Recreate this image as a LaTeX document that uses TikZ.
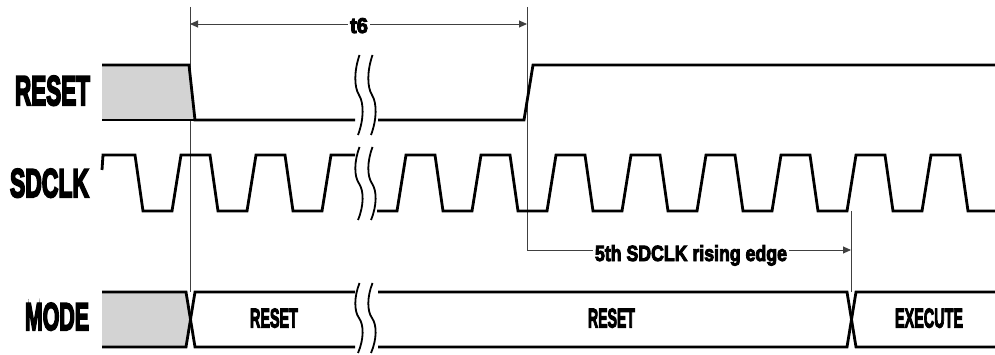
\documentclass[tikz,border=0pt]{standalone}
\usepackage{fontspec}
\usepackage{graphicx}
\usetikzlibrary{arrows.meta}
\newfontfamily\labfont[FakeBold=5.5]{Liberation Sans Bold}
\newfontfamily\smallfont[FakeBold=4.5]{Liberation Sans Bold}
\newcommand{\fitlab}[3]{\resizebox{#1}{#2}{\labfont #3}}
\newcommand{\fitsmall}[3]{\resizebox{#1}{#2}{\smallfont #3}}
\definecolor{fillgray}{HTML}{D3D3D3}
\definecolor{guide}{HTML}{404040}
\newcommand{\brkmark}[3]{%
  \draw[brk] (#1+0.5,#2) .. controls (#1-5,#2+0.2*#3-0.2*#2) and (#1-5,#2+0.4*#3-0.4*#2) .. (#1,0.5*#2+0.5*#3)
     .. controls (#1+5,#2+0.6*#3-0.6*#2) and (#1+5,#2+0.8*#3-0.8*#2) .. (#1-1,#3);}
\begin{document}
\begin{tikzpicture}[x=1pt,y=-1pt,
  sig/.style={line width=2.8pt},
  guideline/.style={line width=0.9pt, draw=guide},
  arr/.style={line width=0.9pt, draw=guide, -{Triangle[length=8pt,width=7pt]}},
  brk/.style={line width=1.8pt},
  lab/.style={inner sep=0pt, anchor=base},
  mid/.style={inner ysep=0pt, inner xsep=2pt, anchor=base}]
\useasboundingbox (0,0) rectangle (995,355);

% signal names
\node[lab] (nreset) at (52.5,105) {\fitlab{75pt}{29pt}{RESET}};
\node[lab] (nsdclk) at (49.5,197) {\fitlab{79pt}{28pt}{SDCLK}};
\node[lab] (nmode)  at (57,330)   {\fitlab{64pt}{27pt}{MODE}};

% guide lines
\coordinate (gA1) at (190,7);   \coordinate (gA2) at (190,292);
\coordinate (gB1) at (527,7);   \coordinate (gB2) at (527,250);
\coordinate (gC1) at (851,211); \coordinate (gC2) at (851,292);
\draw[guideline] (gA1) -- (gA2);
\draw[guideline] (gB1) -- (gB2);
\draw[guideline] (gC1) -- (gC2);

% t6 arrow
\node[mid] (t6) at (359,33) {\fitsmall{18pt}{15pt}{t6}};
\coordinate (t6L) at (190,24); \coordinate (t6R) at (527,24);
\draw[arr] (t6.west |- t6L) -- (t6L);
\draw[arr] (t6.east |- t6R) -- (t6R);

% 5th SDCLK rising edge arrow
\node[mid] (fifth) at (691,261) {\fitsmall{192pt}{16pt}{5th SDCLK rising edge}};
\coordinate (fC) at (527,250); \coordinate (fE) at (851,250);
\draw[guideline] (fC) -- (fifth.west |- fC);
\draw[arr] (fifth.east |- fE) -- (fE);

% RESET signal
\fill[fillgray] (102,65) -- (189,65) -- (195,120) -- (102,120) -- cycle;
\draw[sig] (102,65) -- (189,65) -- (195,120) -- (355,120);
\draw[sig] (102,120) -- (195,120);
\draw[sig] (378,120) -- (524,120) -- (533,65) -- (995,65);

% SDCLK signal
\draw[sig] (102,170) -- (103,155) -- (135,155) -- (143,211) -- (172,211) -- (181,155) -- (210,155) -- (218,211) -- (247,211) -- (256,155) -- (285,155) -- (293,211) -- (322,211) -- (331,155) -- (355,155);
\draw[sig] (377,211) -- (397,211) -- (406,155) -- (435,155) -- (443,211) -- (472,211) -- (481,155) -- (510,155) -- (518,211) -- (547,211) -- (556,155) -- (585,155) -- (593,211) -- (622,211) -- (631,155) -- (660,155) -- (668,211) -- (697,211) -- (706,155) -- (735,155) -- (743,211) -- (772,211) -- (781,155) -- (810,155) -- (818,211) -- (847,211) -- (856,155) -- (885,155) -- (893,211) -- (922,211) -- (931,155) -- (960,155) -- (968,211) -- (995,211);

% MODE bus
\fill[fillgray] (102,292) -- (186,292) -- (190.5,319.5) -- (186,347) -- (102,347) -- cycle;
\draw[sig] (102,292) -- (186,292) -- (195,347) -- (355,347);
\draw[sig] (102,347) -- (186,347) -- (195,292) -- (355,292);
\draw[sig] (378,292) -- (847,292) -- (856,347) -- (995,347);
\draw[sig] (378,347) -- (847,347) -- (856,292) -- (995,292);
\node[lab] (mreset1) at (274,327.5)   {\fitsmall{48pt}{19pt}{RESET}};
\node[lab] (mreset2) at (611.5,327.5) {\fitsmall{47pt}{19pt}{RESET}};
\node[lab] (mexec)   at (929,327.5)   {\fitsmall{68pt}{19pt}{EXECUTE}};

% break marks
\brkmark{359}{55}{135}
\brkmark{372}{55}{135}
\brkmark{359}{147}{220}
\brkmark{372}{147}{220}
\brkmark{359}{283}{353}
\brkmark{372}{283}{353}
\end{tikzpicture}
\end{document}
